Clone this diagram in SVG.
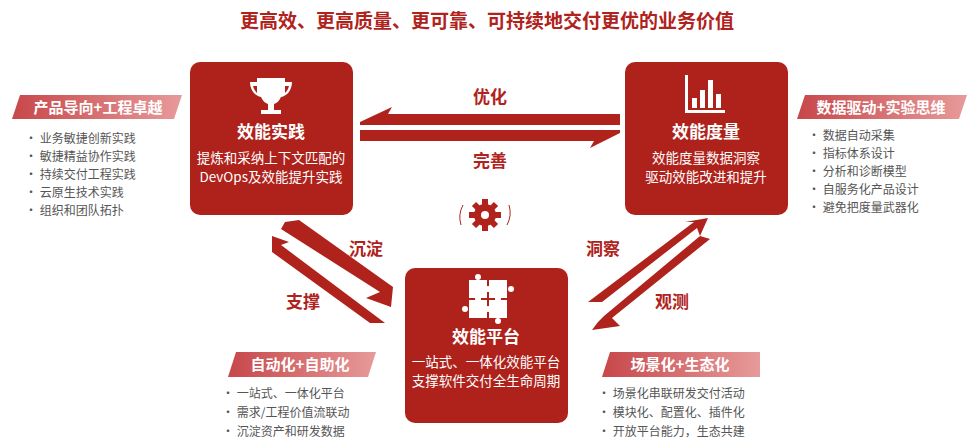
<svg xmlns="http://www.w3.org/2000/svg" width="975" height="446" viewBox="0 0 975 446">
<defs>
<linearGradient id="bn" x1="0" x2="1" y1="0" y2="0"><stop offset="0" stop-color="#c7474a"/><stop offset="1" stop-color="#e79a9a"/></linearGradient>
<style>
.box{fill:#ae221b}
.t{font-family:"Noto Sans CJK SC","Noto Sans",sans-serif;fill:#fff;text-anchor:middle}
.h{font-size:17px;font-weight:bold}
.s{font-size:13.5px}
.lb{font-family:"Noto Sans CJK SC",sans-serif;fill:#b0221c;font-size:17px;font-weight:bold;text-anchor:middle}
.li{font-family:"Noto Sans CJK SC",sans-serif;fill:#555;font-size:12px}
.bt{font-family:"Noto Sans CJK SC",sans-serif;fill:#fff;font-size:15px;font-weight:bold;text-anchor:middle}
.ar{fill:#b0221c}
</style>
</defs>
<rect width="975" height="446" fill="#fff"/>
<text x="487" y="28" class="lb" style="font-size:19px">更高效、更高质量、更可靠、可持续地交付更优的业务价值</text>

<g id="node-practice">
<rect class="box" x="190" y="62" width="163" height="153" rx="10"/>
<path fill="#fff" d="M257 78h28v4h7c0 8-5 14-11 15-2 4-4 6-7 7v6h7v4h-20v-4h7v-6c-3-1-5-3-7-7-6-1-11-7-11-15h7zm-4 8c1 4 3 6 4 7v-7zm32 0v7c1-1 3-3 4-7z"/>
<text x="271" y="138" class="t h">效能实践</text>
<text x="271" y="163" class="t s">提炼和采纳上下文匹配的</text>
<text x="271" y="182" class="t s">DevOps及效能提升实践</text>
</g>
<g id="node-metrics">
<rect class="box" x="625" y="62" width="163" height="153" rx="10"/>
<g fill="#fff"><rect x="685" y="75" width="3" height="38"/><rect x="685" y="110" width="40" height="3"/><rect x="692" y="98" width="5" height="10"/><rect x="700" y="90" width="5" height="18"/><rect x="708" y="80" width="5" height="28"/><rect x="716" y="94" width="5" height="14"/></g>
<text x="706" y="138" class="t h">效能度量</text>
<text x="706" y="163" class="t s">效能度量数据洞察</text>
<text x="706" y="182" class="t s">驱动效能改进和提升</text>
</g>
<g id="node-platform">
<rect class="box" x="405" y="268" width="163" height="155" rx="10"/>
<g fill="#fff"><rect x="469" y="280" width="18" height="18"/><rect x="489" y="280" width="18" height="18"/><rect x="469" y="300" width="18" height="18"/><rect x="489" y="300" width="18" height="18"/><circle cx="488" cy="289" r="3"/><circle cx="478" cy="299" r="3"/><circle cx="498" cy="299" r="3"/><circle cx="488" cy="309" r="3"/><circle cx="465" cy="309" r="3"/><circle cx="511" cy="289" r="3"/><circle cx="478" cy="277" r="3"/><circle cx="498" cy="321" r="3"/></g>
<text x="486" y="343" class="t h">效能平台</text>
<text x="486" y="367" class="t s">一站式、一体化效能平台</text>
<text x="486" y="386" class="t s">支撑软件交付全生命周期</text>
</g>

<g id="connectors">
<polygon class="ar" points="360,122 392,107 388,114 620,114 620,125 360,125"/>
<polygon class="ar" points="360,130 620,130 620,133 590,148 594,141 360,141"/>
<polygon class="ar" points="285,222 299,220 393,287 391,307 366,298 380,292 281,229"/>
<polygon class="ar" points="272,236 289,242 281,245 385,323 370,323 272,252"/>
<polygon class="ar" points="685,222 708,218 700,236 697,228 602,302 588,302 694,222"/>
<polygon class="ar" points="700,236 710,239 612,318 620,326 592,330 598,322 604,316"/>
<g fill="#b0221c"><circle cx="485" cy="215" r="11"/><g stroke="#b0221c" stroke-width="6"><line x1="485" y1="199" x2="485" y2="231"/><line x1="469" y1="215" x2="501" y2="215"/><line x1="474" y1="204" x2="496" y2="226"/><line x1="496" y1="204" x2="474" y2="226"/></g><circle cx="485" cy="215" r="4" fill="#fff"/></g>
<path d="M463 205a26 26 0 0 0 -2 20" stroke="#b0221c" fill="none" stroke-width="1"/>
<path d="M507 225a26 26 0 0 0 2 -20" stroke="#b0221c" fill="none" stroke-width="1"/>
<text x="490" y="103" class="lb">优化</text>
<text x="490" y="167" class="lb">完善</text>
<text x="366" y="255" class="lb">沉淀</text>
<text x="303" y="308" class="lb">支撑</text>
<text x="603" y="255" class="lb">洞察</text>
<text x="672" y="308" class="lb">观测</text>
</g>

<g id="tag-left">
<polygon fill="url(#bn)" points="20,95 182,95 174,119 12,119"/>
<text x="98" y="113" class="bt">产品导向+工程卓越</text>
<g class="li"><text x="25" y="143">•   业务敏捷创新实践</text><text x="25" y="161">•   敏捷精益协作实践</text><text x="25" y="179">•   持续交付工程实践</text><text x="25" y="197">•   云原生技术实践</text><text x="25" y="215">•   组织和团队拓扑</text></g>
</g>
<g id="tag-right">
<polygon fill="url(#bn)" points="805,95 967,95 959,119 797,119"/>
<text x="881" y="113" class="bt">数据驱动+实验思维</text>
<g class="li"><text x="808" y="140">•   数据自动采集</text><text x="808" y="158">•   指标体系设计</text><text x="808" y="176">•   分析和诊断模型</text><text x="808" y="194">•   自服务化产品设计</text><text x="808" y="212">•   避免把度量武器化</text></g>
</g>
<g id="tag-bottom-left">
<polygon fill="url(#bn)" points="236,352 376,352 368,377 228,377"/>
<text x="300" y="370" class="bt">自动化+自助化</text>
<g class="li"><text x="222" y="398">•   一站式、一体化平台</text><text x="222" y="417">•   需求/工程价值流联动</text><text x="222" y="436">•   沉淀资产和研发数据</text></g>
</g>
<g id="tag-bottom-right">
<polygon fill="url(#bn)" points="610,352 760,352 760,377 602,377"/>
<text x="680" y="370" class="bt">场景化+生态化</text>
<g class="li"><text x="598" y="398">•   场景化串联研发交付活动</text><text x="598" y="417">•   模块化、配置化、插件化</text><text x="598" y="436">•   开放平台能力，生态共建</text></g>
</g>
</svg>
